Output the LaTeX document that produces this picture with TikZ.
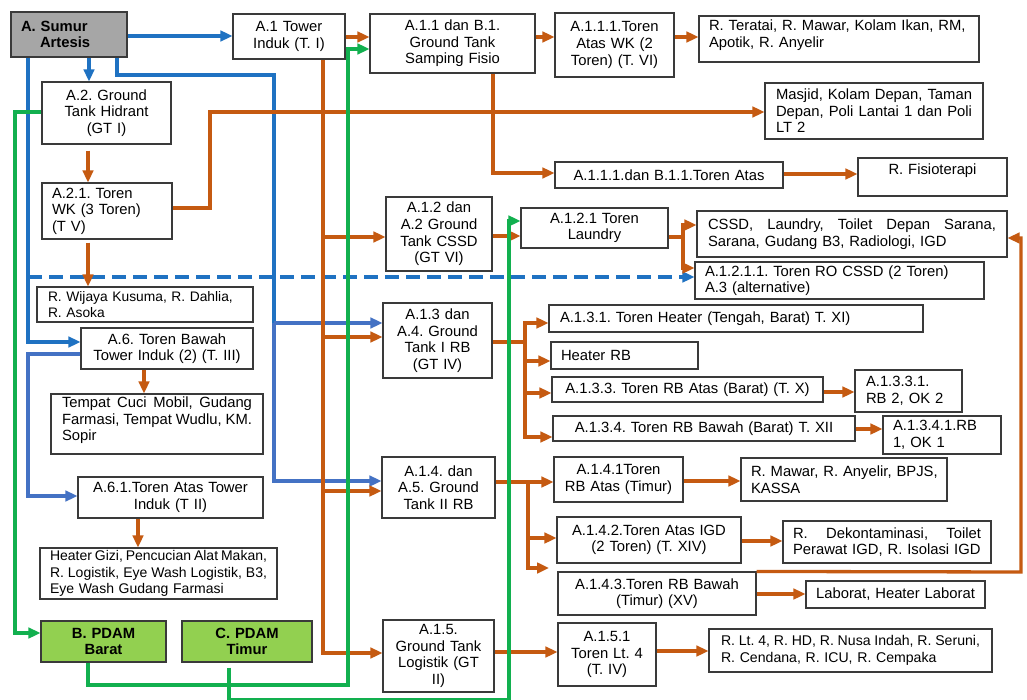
\documentclass[tikz,border=0pt]{standalone}
\usepackage{fontspec}
\setmainfont{Liberation Sans}
\usetikzlibrary{arrows.meta}
\definecolor{orc}{HTML}{C55A11}
\definecolor{blA}{HTML}{1F72C2}
\definecolor{blB}{HTML}{4472C4}
\definecolor{grc}{HTML}{12B04F}
\definecolor{bdr}{HTML}{3A3A3A}
\definecolor{grayf}{HTML}{A6A6A6}
\definecolor{pdamg}{HTML}{92D050}
\newcommand\fs{\fontsize{14.8}{16.6}\selectfont\frenchspacing}
\newcommand\fsz[1]{\fontsize{#1}{16.6}\selectfont\frenchspacing}
\newcommand\jl[2]{\makebox[#1][s]{\spaceskip=0pt\relax #2}}
\newcommand\nb[1]{\mbox{#1}}
\newcommand\mybox[8][4]{%
  \pgfmathsetmacro\bw{#5-#3}\pgfmathsetmacro\bh{#6-#4}%
  \pgfmathsetmacro\bcx{(#3+#5)/2}\pgfmathsetmacro\bcy{(#4+#6)/2}%
  \pgfmathsetmacro\btw{#5-#3-2*#1}%
  \node[box, inner xsep=#1pt, minimum width=\bw pt, minimum height=\bh pt, text width=\btw pt, #7] (#2) at (\bcx,\bcy) {#8};}
\tikzset{
  box/.style={draw=bdr, line width=1.1pt, fill=white, font=\fs, inner ysep=1pt},
  arr/.style={-{Triangle[length=12pt,width=10.5pt]}},
  lnO/.style={draw=orc, line width=3.3pt},
  lnA/.style={draw=blA, line width=3.3pt},
  lnB/.style={draw=blB, line width=3.3pt},
  lnG/.style={draw=grc, line width=3.3pt},
  dsh/.style={dash pattern=on 14pt off 7pt}
}
\begin{document}
\begin{tikzpicture}[x=1pt,y=-1pt]
\useasboundingbox[fill=white] (0,0) rectangle (1027,700);
% boxes
\mybox[10]{sumur}{11}{12}{127}{57}{fill=grayf, font=\fs\bfseries, align=left}{A. Sumur\\\hspace*{19pt}Artesis}
\mybox{a1}{233}{14}{345}{59}{align=center}{A.1 Tower\\Induk (T. I)}
\mybox{a11}{370}{14}{535}{73}{align=center}{A.1.1 dan B.1.\\Ground Tank\\Samping Fisio}
\mybox{a111}{555}{13}{674}{77}{align=center}{A.1.1.1.Toren\\Atas WK (2\\Toren) (T. VI)}
\mybox[10]{teratai}{699}{16}{979}{62}{align=left}{\nb{R. Teratai, R. Mawar, Kolam Ikan, RM,}\\\nb{Apotik, R. Anyelir}\\[-6pt]\mbox{}}
\mybox[11]{masjid}{765}{83}{983}{139}{align=left}{\jl{196pt}{Masjid, Kolam Depan, Taman}\\\jl{196pt}{Depan, Poli Lantai 1 dan Poli}\\LT 2}
\mybox{a1111}{555}{162}{783}{188}{align=center}{A.1.1.1.dan B.1.1.Toren Atas}
\mybox{fisio}{858}{158}{1007}{196}{align=center}{R. Fisioterapi\\\mbox{}}
\mybox{a2}{42}{82}{171}{144}{align=center}{A.2. Ground\\Tank Hidrant\\(GT I)}
\mybox[10]{a21}{42}{183}{172}{239}{align=left}{\nb{A.2.1. Toren}\\\nb{WK (3 Toren)}\\(T V)}
\mybox{a12}{386}{197}{492}{271}{align=center}{A.1.2 dan\\A.2 Ground\\Tank CSSD\\(GT VI)}
\mybox{a121}{521}{208}{668}{248}{align=center}{A.1.2.1 Toren\\Laundry}
\mybox[11]{cssd}{697}{211}{1007}{257}{align=left}{\jl{288pt}{CSSD, Laundry, Toilet Depan Sarana,}\\\nb{Sarana, Gudang B3, Radiologi, IGD}}
\mybox[10]{a1211}{695}{262}{984}{299}{align=left}{\nb{A.1.2.1.1. Toren RO CSSD (2 Toren)}\\\nb{A.3 (alternative)}}
\mybox[11]{wijaya}{37}{287}{253}{322}{align=left, font=\fsz{13.8}}{\nb{R. Wijaya Kusuma, R. Dahlia,}\\R. Asoka}
\mybox{a6}{81}{328}{253}{369}{align=center}{A.6. Toren Bawah\\Tower Induk (2) (T. III)}
\mybox[11]{cuci}{51}{394}{263}{454}{align=left}{\jl{190pt}{Tempat Cuci Mobil, Gudang}\\\jl{190pt}{Farmasi, Tempat Wudlu, KM.}\\Sopir\\[-6pt]\mbox{}}
\mybox{a13}{383}{303}{492}{378}{align=center}{A.1.3 dan\\A.4. Ground\\Tank I RB\\(GT IV)}
\mybox[11]{a131}{549}{305}{923}{332}{align=left}{\nb{A.1.3.1. Toren Heater (Tengah, Barat) T. XI)}}
\mybox[10]{heaterrb}{551}{342}{698}{369}{align=left}{Heater RB}
\mybox{a133}{552}{377}{823}{402}{align=center}{A.1.3.3. Toren RB Atas (Barat) (T. X)}
\mybox[11]{a1331}{855}{370}{962}{412}{align=left}{\nb{A.1.3.3.1.}\\\nb{RB 2, OK 2}}
\mybox{a134}{553}{416}{855}{441}{align=center}{A.1.3.4. Toren RB Bawah (Barat) T. XII}
\mybox[10]{a1341}{883}{416}{1001}{454}{align=left}{\nb{A.1.3.4.1.RB}\\\nb{1, OK 1}}
\mybox{a14}{382}{457}{495}{518}{align=center}{A.1.4. dan\\A.5. Ground\\Tank II RB}
\mybox{a141}{554}{457}{683}{502}{align=center}{A.1.4.1Toren\\RB Atas (Timur)}
\mybox[10]{mawar}{741}{458}{947}{501}{align=left}{\nb{R. Mawar, R. Anyelir, BPJS,}\\KASSA}
\mybox{a142}{557}{517}{741}{563}{align=center}{A.1.4.2.Toren Atas IGD\\(2 Toren) (T. XIV)}
\mybox[10]{dekon}{783}{521}{991}{563}{align=left}{\jl{188pt}{R. Dekontaminasi, Toilet}\\\nb{Perawat IGD, R. Isolasi IGD}}
\mybox{a143}{558}{572}{756}{615}{align=center}{A.1.4.3.Toren RB Bawah\\(Timur) (XV)}
\mybox{laborat}{806}{581}{985}{608}{align=center}{Laborat, Heater Laborat}
\mybox{a151}{558}{623}{656}{686}{align=center}{A.1.5.1\\Toren Lt. 4\\(T. IV)}
\mybox[12]{lt4}{709}{629}{992}{672}{align=left, font=\fsz{14.1}}{\jl{259pt}{R. Lt. 4, R. HD, R. Nusa Indah, R. Seruni,}\\\nb{R. Cendana, R. ICU, R. Cempaka}}
\mybox{a15}{383}{620}{494}{692}{align=center}{A.1.5.\\Ground Tank\\Logistik (GT\\II)}
\mybox{a61}{78}{477}{263}{518}{align=center}{A.6.1.Toren Atas Tower\\Induk (T II)}
\mybox[10]{gizi}{40}{548}{277}{599}{align=left, font=\fsz{14}}{\jl{217pt}{Heater Gizi, Pencucian Alat Makan,}\\\jl{217pt}{R. Logistik, Eye Wash Logistik, B3,}\\\nb{Eye Wash Gudang Farmasi}}
\mybox{pdamb}{41}{621}{166}{662}{fill=pdamg, font=\fs\bfseries, align=center}{B. PDAM\\Barat}
\mybox{pdamc}{182}{621}{312}{662}{fill=pdamg, font=\fs\bfseries, align=center}{C. PDAM\\Timur}
% junction coordinates
\coordinate (bj) at (274,323);
\coordinate (oj1) at (323,237);
\coordinate (oj2) at (323,337);
\coordinate (oj3) at (323,491);
\coordinate (oj4) at (683,237);
\coordinate (oj5) at (525,342);
\coordinate (oj6) at (528,482);
\coordinate (a143in) at (549,568);
\coordinate (dj) at (28,277);
% blue
\draw[lnA,arr] (sumur.east |- 0,36) -- (a1.west |- 0,36);
\draw[lnA,arr] (sumur.south -| 89,0) -- (a2.north -| 89,0);
\draw[lnA] (sumur.south -| 117,0) |- (274,75) -- (bj);
\draw[lnB,arr] (bj) -- (a13.west |- bj);
\draw[lnB,arr] (bj) |- (a14.west |- 0,481);
\draw[lnA,arr] (sumur.south -| 28,0) |- (a6.west |- 0,342);
\draw[lnA,arr,dsh] (dj) -- (a1211.west |- dj);
\draw[lnB,arr] (a6.west |- 0,354) -- (28,354) |- (a61.west |- 0,496);
% orange
\draw[lnO,arr] (a1.east |- 0,37) -- (a11.west |- 0,37);
\draw[lnO,arr] (a11.east |- 0,37) -- (a111.west |- 0,37);
\draw[lnO,arr] (a111.east |- 0,37) -- (teratai.west |- 0,37);
\draw[lnO,arr] (a11.south -| 493,0) |- (a1111.west |- 0,173);
\draw[lnO,arr] (a1111.east |- 0,174) -- (fisio.west |- 0,174);
\draw[lnO,arr,shorten <=6pt] (a2.south -| 88,0) -- (a21.north -| 88,0);
\draw[lnO,arr] (a21.east |- 0,208) -| (210,112) -- (masjid.west |- 0,112);
\draw[lnO,arr,shorten <=3pt] (a21.south -| 88,0) -- (wijaya.north -| 88,0);
\draw[lnO,arr] (a1.south -| 323,0) |- (a15.west |- 0,653);
\draw[lnO,arr] (oj1) -- (a12.west |- oj1);
\draw[lnO,arr] (oj2) -- (a13.west |- oj2);
\draw[lnO,arr] (oj3) -- (a14.west |- oj3);
\draw[lnO,arr] (a12.east |- 0,236) -- (a121.west |- 0,236);
\draw[lnO] (a121.east |- oj4) -- (oj4);
\draw[lnO,arr] (oj4) |- (cssd.west |- 0,225);
\draw[lnO,arr] (oj4) |- (a1211.west |- 0,268);
\draw[lnO] (a13.east |- oj5) -- (oj5);
\draw[lnO,arr] (oj5) |- (a131.west |- 0,323);
\draw[lnO,arr] (oj5) |- (heaterrb.west |- 0,361);
\draw[lnO,arr] (oj5) |- (a133.west |- 0,393);
\draw[lnO,arr] (oj5) |- (a134.west |- 0,437);
\draw[lnO,arr] (a133.east |- 0,392) -- (a1331.west |- 0,392);
\draw[lnO,arr] (a134.east |- 0,429) -- (a1341.west |- 0,429);
\draw[lnO] (a14.east |- oj6) -- (oj6);
\draw[lnO,arr] (oj6) -- (a141.west |- oj6);
\draw[lnO,arr] (oj6) |- (a142.west |- 0,538);
\draw[lnO,arr] (oj6) |- (a143in);
\draw[lnO,arr] (a143.north east) -- (1021,572) |- (cssd.east |- 0,238);
\draw[lnO,arr] (a141.east |- 0,481) -- (mawar.west |- 0,481);
\draw[lnO,arr] (a142.east |- 0,541) -- (dekon.west |- 0,541);
\draw[lnO,arr] (a143.east |- 0,594) -- (laborat.west |- 0,594);
\draw[lnO,arr] (a15.east |- 0,652) -- (a151.west |- 0,652);
\draw[lnO,arr] (a151.east |- 0,651) -- (lt4.west |- 0,651);
\draw[lnO,arr] (a6.south -| 144,0) -- (cuci.north -| 144,0);
\draw[lnO,arr] (a61.south -| 138,0) -- (gizi.north -| 138,0);
% green
\draw[lnG,arr] (a2.west |- 0,112) -- (15,112) |- (pdamb.west |- 0,633);
\draw[lnG,arr] (pdamb.south -| 88,0) |- (348,685) |- (a11.west |- 0,49);
\draw[lnG,arr,shorten <=5pt] (pdamc.south -| 229,0) |- (509,699.5) |- (a121.west |- 0,221);
\end{tikzpicture}
\end{document}
